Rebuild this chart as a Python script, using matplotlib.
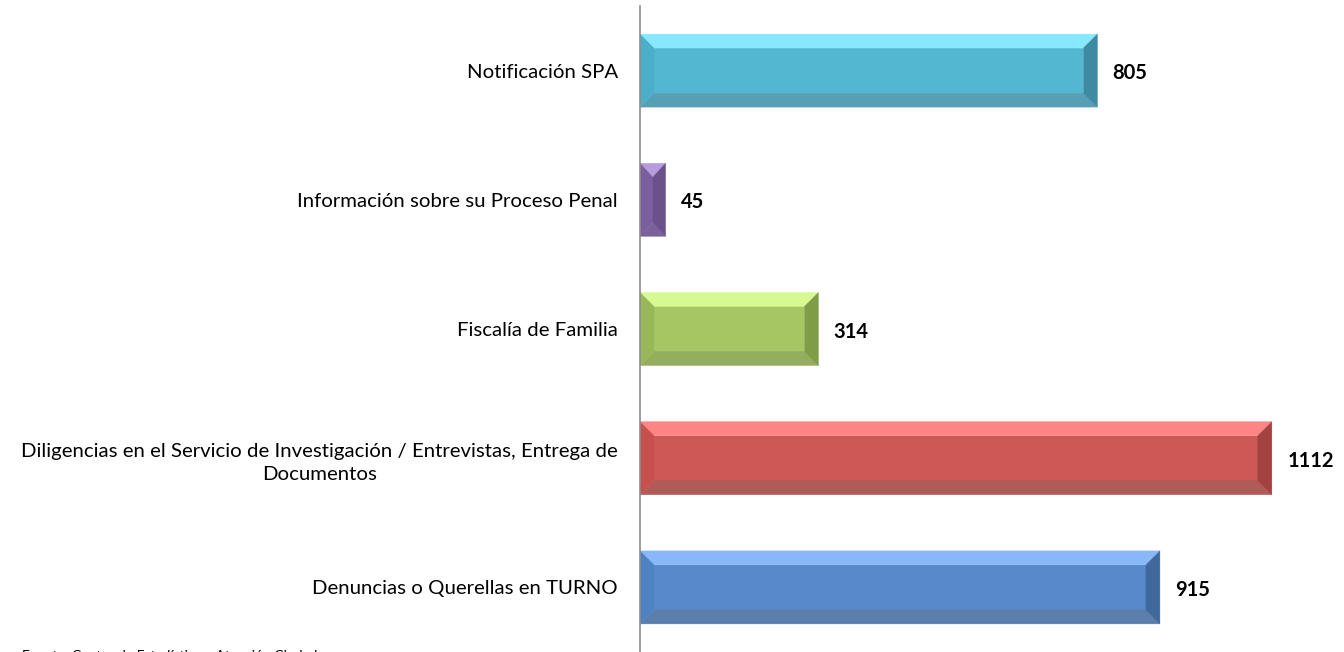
import matplotlib
matplotlib.use("Agg")
import matplotlib.pyplot as plt
from matplotlib.patches import Polygon

categories = [
    "Denuncias o Querellas en TURNO",
    "Diligencias en el Servicio de Investigación / Entrevistas, Entrega de\nDocumentos",
    "Fiscalía de Familia",
    "Información sobre su Proceso Penal",
    "Notificación SPA",
]
values = [915, 1112, 314, 45, 805]
# center, top, bottom, left, right faces
palettes = [
    ("#5889C9", "#88B8F8", "#5B7FAA", "#4F82C2", "#40699B"),
    ("#CD5957", "#FF8584", "#AF5B58", "#C5504E", "#A24341"),
    ("#A6C663", "#D7F992", "#94AE5F", "#98B758", "#7F9C47"),
    ("#8165A3", "#B59CDC", "#7A6199", "#7B5E9D", "#6A5189"),
    ("#53B7D2", "#86E9FF", "#569FB5", "#4BAFC9", "#3E8AA2"),
]
source = "Fuente: Centro de Estadística y Atención Ciudadana"

plt.rcParams['font.family'] = ['Lato', 'DejaVu Sans']

fig = plt.figure(figsize=(13.44, 6.52), dpi=100)
ax = fig.add_axes([640/1344, 0.0, 704/1344, 646/652])
ax.set_xlim(0, 1239)
ax.set_ylim(-0.5, len(values) - 0.5)

h = 0.565
bxmax = 24.6
by = 0.108
for i, (v, pal) in enumerate(zip(values, palettes)):
    y0 = i - h/2
    y1 = i + h/2
    bx = min(bxmax, v/2)
    c_center, c_top, c_bot, c_left, c_right = pal
    polys = [
        ([(bx, y0+by), (v-bx, y0+by), (v-bx, y1-by), (bx, y1-by)], c_center),
        ([(0, y1), (v, y1), (v-bx, y1-by), (bx, y1-by)], c_top),
        ([(0, y0), (v, y0), (v-bx, y0+by), (bx, y0+by)], c_bot),
        ([(0, y0), (0, y1), (bx, y1-by), (bx, y0+by)], c_left),
        ([(v, y0), (v, y1), (v-bx, y1-by), (v-bx, y0+by)], c_right),
    ]
    for pts, col in polys:
        ax.add_patch(Polygon(pts, closed=True, facecolor=col, edgecolor=col, lw=0.3))
    ax.text(v + 27, i - 0.02, str(v), ha='left', va='center', fontsize=14.5,
            fontweight='bold', color='black')

ax.set_yticks(range(len(categories)))
ax.set_yticklabels(categories, fontsize=14.7, multialignment='center', linespacing=1.45)
ax.tick_params(axis='y', length=0, pad=16)
ax.set_xticks([])
for s in ['top', 'right', 'bottom']:
    ax.spines[s].set_visible(False)
ax.spines['left'].set_color('#8C8C8C')
ax.spines['left'].set_linewidth(1.2)

fig.text(22/1344, -10/652, source, ha='left', va='bottom', fontsize=10, color='black')

fig.savefig("out.png", dpi=100)
